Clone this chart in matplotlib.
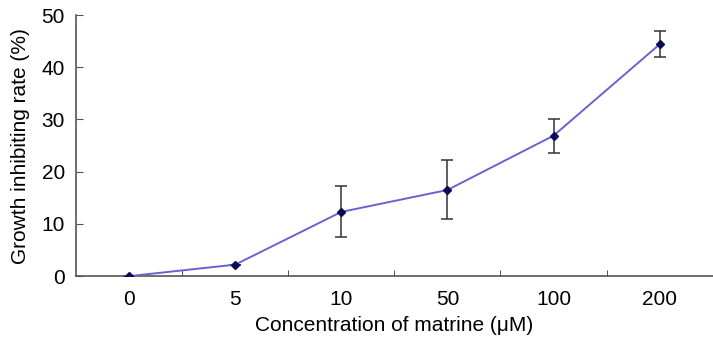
import matplotlib
matplotlib.use("Agg")
import matplotlib.pyplot as plt
import numpy as np

plt.rcParams['font.family'] = ['Liberation Sans', 'DejaVu Sans']

categories = ["0", "5", "10", "50", "100", "200"]
values = [0.0, 2.2, 12.3, 16.5, 26.9, 44.4]
err_low = [0.0, 0.0, 4.8, 5.5, 3.3, 2.4]
err_high = [0.0, 0.0, 4.9, 5.8, 3.2, 2.6]

fig = plt.figure(figsize=(7.13, 3.5), dpi=100)
ax = fig.add_axes([0.1066, 0.211, 0.893, 0.746])
x = np.arange(len(categories))

ax.errorbar(x, values, yerr=[err_low, err_high], fmt='none', ecolor='#333333',
            elinewidth=1.1, capsize=4, capthick=1.1, zorder=2)
ax.plot(x, values, color='#6a62d0', lw=1.4, zorder=3)
ax.plot(x, values, linestyle='none', marker='D', ms=4.5, color='#0a0a55', zorder=4)

ax.set_xlim(-0.5, 5.5)
ax.set_ylim(0, 50)
ax.set_yticks([0, 10, 20, 30, 40, 50])
ax.set_xticks(x)
ax.set_xticklabels(categories)
ax.set_xticks(np.arange(0.5, 5.5, 1.0), minor=True)
ax.tick_params(axis='x', which='major', length=0, pad=10, labelsize=15)
ax.tick_params(axis='x', which='minor', direction='in', length=4, color='#333333')
ax.tick_params(axis='y', direction='in', length=5, color='#555555', labelsize=15, pad=8)

for s in ['top', 'right']:
    ax.spines[s].set_visible(False)
for s in ['left', 'bottom']:
    ax.spines[s].set_color('#555555')
    ax.spines[s].set_linewidth(1.2)

ax.set_xlabel('Concentration of matrine (μM)', fontsize=15, labelpad=5)
ax.set_ylabel('Growth inhibiting rate (%)', fontsize=15, labelpad=8)

fig.savefig('out.png', dpi=100)
